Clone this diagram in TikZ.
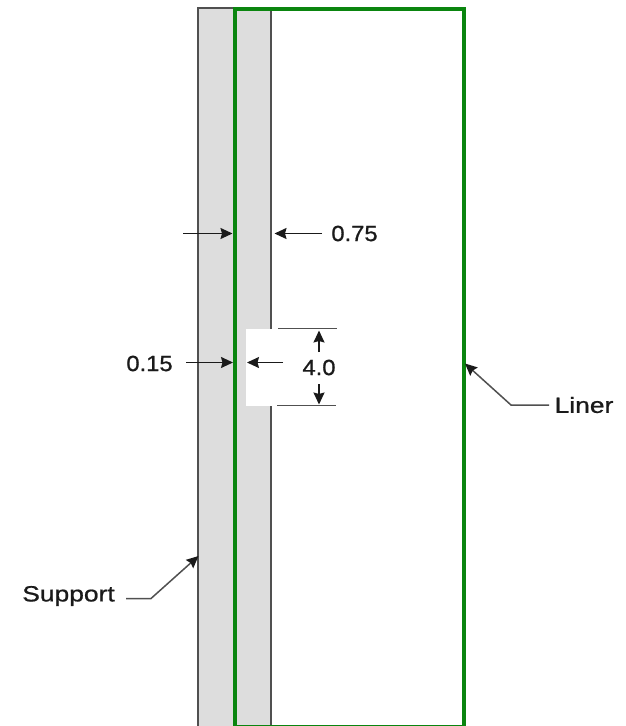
\documentclass[tikz,border=0pt]{standalone}
\usepackage{fontspec}
\setmainfont{Liberation Sans}[FakeBold=0.8]
\usetikzlibrary{arrows.meta}
\definecolor{wallgray}{HTML}{DDDDDD}
\definecolor{edgegray}{HTML}{505050}
\definecolor{linergreen}{HTML}{0A850F}
\definecolor{inkgray}{HTML}{1A1A1A}
\tikzset{
  wall/.style={draw=edgegray,fill=wallgray,line width=1.3pt,inner sep=0pt,outer sep=0pt,anchor=north west,minimum width=73pt,minimum height=722pt},
  linerbox/.style={draw=linergreen,line width=4pt,inner sep=0pt,outer sep=0pt,anchor=north west,minimum width=229pt,minimum height=718.6pt},
  notch/.style={fill=white,inner sep=0pt,outer sep=0pt,anchor=north west,minimum width=29pt,minimum height=77pt},
  dimarrow/.style={draw=inkgray,line width=1.5pt,-{Stealth[length=12pt,width=11pt,inset=1.5pt]}},
  leader/.style={draw=edgegray,line width=1.5pt,-{Stealth[length=12pt,width=11pt,inset=1.5pt,inkgray]}},
  tick/.style={draw=edgegray,line width=1.5pt},
  lbl/.style={font=\fontsize{22}{24}\selectfont,text=inkgray,inner sep=0pt,outer sep=0pt,xscale=1.2},
  numlbl/.style={lbl,xscale=0.9}
}
\begin{document}
\begin{tikzpicture}[x=1pt,y=-1pt]
\useasboundingbox (0,0) rectangle (625,726);
\fill[white] (0,0) rectangle (625,726);
\node[wall] (support) at (198,8) {};
\node[notch] (gap) at (246,328.5) {};
\node[linerbox] (liner) at (234.5,8.5) {};
% dimension ticks
\coordinate (t1a) at (278,328.5); \coordinate (t1b) at (337,328.5);
\coordinate (t2a) at (277,405.5); \coordinate (t2b) at (336,405.5);
\draw[tick] (t1a) -- (t1b);
\draw[tick] (t2a) -- (t2b);
% labels
\node[numlbl] (l75) at (354.5,233.5) {0.75};
\node[numlbl] (l15) at (149.5,363.5) {0.15};
\node[numlbl] (l40) at (319,367.5) {4.0};
\node[lbl] (lsup) at (68.5,596) {Support};
\node[lbl] (llin) at (584,405) {Liner};
% free ends
\coordinate (a1s) at (183,233.5); \coordinate (a1e) at (232.5,233.5);
\coordinate (a2s) at (322,233.5); \coordinate (a2e) at (274.5,233.5);
\coordinate (a3s) at (186,362.5); \coordinate (a3e) at (233,362.5);
\coordinate (a4s) at (283,362.5); \coordinate (a4e) at (247,362.5);
\coordinate (a5s) at (319,352);   \coordinate (a5e) at (319,330.5);
\coordinate (a6s) at (319,384);   \coordinate (a6e) at (319,404.5);
\draw[dimarrow] (a1s) -- (a1e);
\draw[dimarrow] (a2s) -- (a2e);
\draw[dimarrow] (a3s) -- (a3e);
\draw[dimarrow] (a4s) -- (a4e);
\draw[dimarrow] (a5s) -- (a5e);
\draw[dimarrow] (a6s) -- (a6e);
% leaders
\coordinate (s0) at (126,598.5); \coordinate (s1) at (151,598.5); \coordinate (s2) at (198.5,556);
\coordinate (k0) at (549,405); \coordinate (k1) at (511,405); \coordinate (k2) at (465,363.5);
\draw[leader] (s0) -- (s1) -- (s2);
\draw[leader] (k0) -- (k1) -- (k2);
\end{tikzpicture}
\end{document}
